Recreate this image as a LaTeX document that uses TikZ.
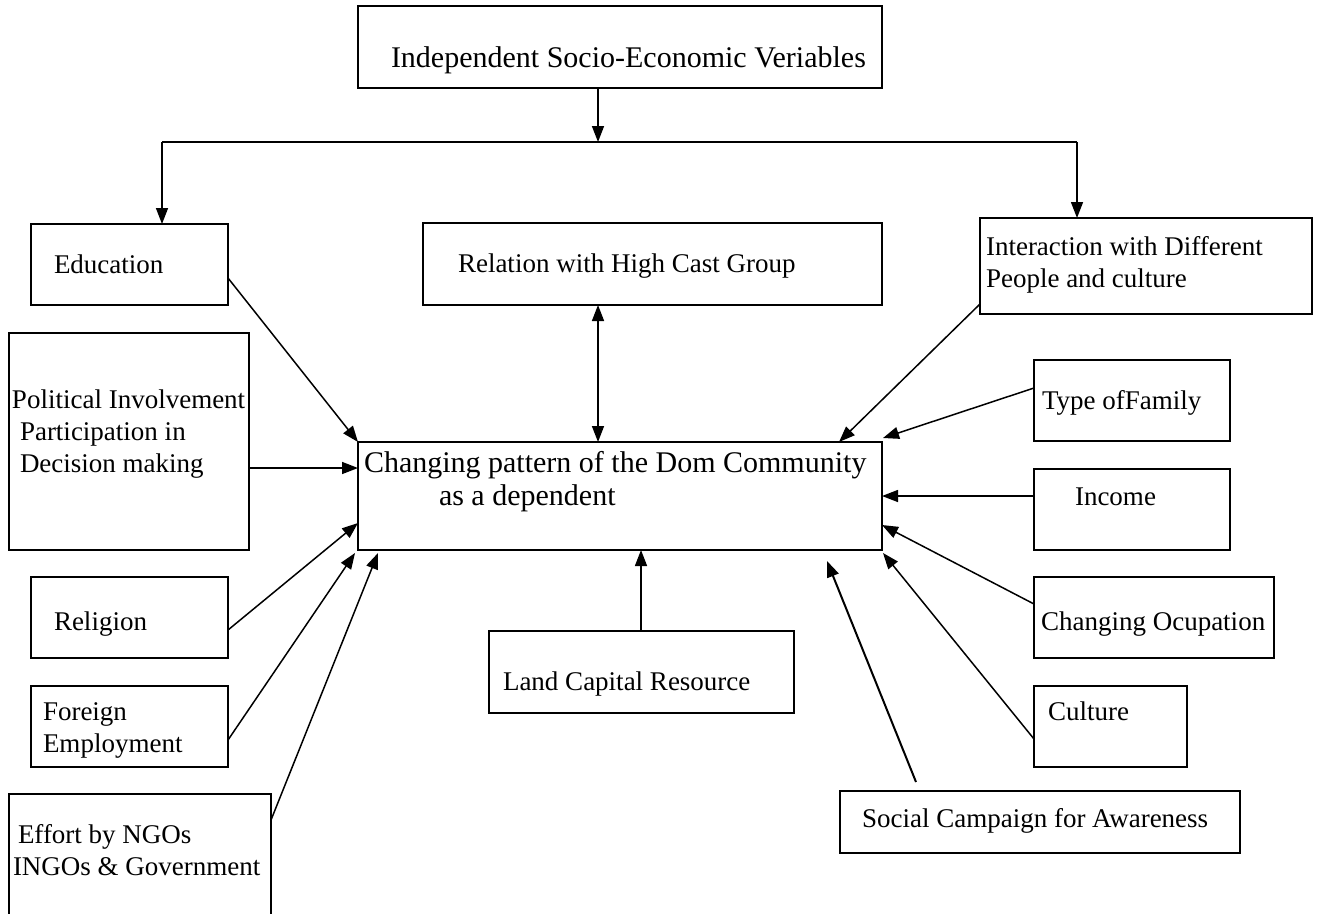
\documentclass[tikz,border=0pt]{standalone}
\usepackage{fontspec}
\setmainfont{Liberation Serif}
\usetikzlibrary{arrows.meta,calc}
\tikzset{
  box/.style={draw, line width=1.6pt, inner sep=0pt, outer sep=0pt, anchor=north west},
  txt/.style={inner sep=0pt, outer sep=0pt, anchor=base west, font=\fontsize{27}{32}\selectfont},
  bigtxt/.style={inner sep=0pt, outer sep=0pt, anchor=base west, font=\fontsize{30}{33}\selectfont},
  conn/.style={line width=1.5pt, -{Triangle[length=16pt,width=12pt]}},
  conntwo/.style={line width=1.5pt, {Triangle[length=16pt,width=12pt]}-{Triangle[length=16pt,width=12pt]}},
  plain/.style={line width=1.5pt},
}
\begin{document}
\begin{tikzpicture}[x=1pt,y=-1pt]
\clip (0,0) rectangle (1321,913);
\useasboundingbox (0,0) rectangle (1321,913);

% boxes
\node[box, minimum width=524pt, minimum height=82pt] (top) at (358,6) {};
\node[box, minimum width=197pt, minimum height=81pt] (edu) at (31,224) {};
\node[box, minimum width=459pt, minimum height=82pt] (rel) at (423,223) {};
\node[box, minimum width=332pt, minimum height=96pt] (inter) at (980,218) {};
\node[box, minimum width=240pt, minimum height=217pt] (pol) at (9,333) {};
\node[box, minimum width=524pt, minimum height=108pt] (cen) at (358,442) {};
\node[box, minimum width=196pt, minimum height=81pt] (fam) at (1034,360) {};
\node[box, minimum width=196pt, minimum height=81pt] (inc) at (1034,469) {};
\node[box, minimum width=240pt, minimum height=81pt] (occ) at (1034,577) {};
\node[box, minimum width=153pt, minimum height=81pt] (cul) at (1034,686) {};
\node[box, minimum width=400pt, minimum height=62pt] (soc) at (840,791) {};
\node[box, minimum width=305pt, minimum height=82pt] (land) at (489,631) {};
\node[box, minimum width=197pt, minimum height=81pt] (relig) at (31,577) {};
\node[box, minimum width=197pt, minimum height=81pt] (fore) at (31,686) {};
\node[box, minimum width=262pt, minimum height=160pt] (eff) at (9,794) {};

% texts
\node[bigtxt] (topT) at (391,67) {Independent Socio-Economic Veriables};
\node[txt] (eduT) at (54,273) {Education};
\node[txt] (relT) at (458,272) {Relation with High Cast Group};
\node[txt] (interT1) at (986,255) {Interaction with Different};
\node[txt] (interT2) at (986,287) {People and culture};
\node[txt] (polT1) at (12,408) {Political Involvement};
\node[txt] (polT2) at (20,440) {Participation in};
\node[txt] (polT3) at (20,472) {Decision making};
\node[bigtxt] (cenT1) at (364,472) {Changing pattern of the Dom Community};
\node[bigtxt] (cenT2) at (439,505) {as a dependent};
\node[txt] (famT) at (1042,409) {Type ofFamily};
\node[txt] (incT) at (1075,505) {Income};
\node[txt] (occT) at (1041,630) {Changing Ocupation};
\node[txt] (culT) at (1048,720) {Culture};
\node[txt] (socT) at (862,827) {Social Campaign for Awareness};
\node[txt] (landT) at (503,690) {Land Capital Resource};
\node[txt] (religT) at (54,630) {Religion};
\node[txt] (foreT1) at (43,720) {Foreign};
\node[txt] (foreT2) at (43,752) {Employment};
\node[txt] (effT1) at (18,843) {Effort by NGOs};
\node[txt] (effT2) at (13,875) {INGOs \& Government};

% top distribution
\coordinate (split) at (598,142);
\coordinate (hl) at (162,142);
\coordinate (hr) at (1077,142);
\draw[conn] (split |- top.south) -- (split);
\draw[plain] (hl) -- (hr);
\draw[conn] (hl) -- (hl |- edu.north);
\draw[conn] (hr) -- (hr |- inter.north);

% relation double arrow
\coordinate (rx) at (598,0);
\draw[conntwo] (rx |- rel.south) -- (rx |- cen.north);

% left side
\draw[conn] ([yshift=-13.5pt]edu.east) -- (cen.north west);
\coordinate (polA) at ([yshift=-26.5pt]pol.east);
\draw[conn] (polA) -- (polA -| cen.west);
\draw[conn] ([yshift=-12.5pt]relig.east) -- ([yshift=-27pt]cen.west);
\draw[conn] ([yshift=-13.5pt]fore.east) -- ([xshift=-3pt,yshift=-3pt]cen.south west);
\draw[conn] ([yshift=-26pt]eff.north east) -- ([xshift=20pt,yshift=-3pt]cen.south west);

% bottom
\coordinate (lx) at (641,0);
\draw[conn] (lx |- land.north) -- (lx |- cen.south);
\draw[conn, line width=2pt] ([xshift=-124pt,yshift=9pt]soc.north) -- ([xshift=-55pt,yshift=-11pt]cen.south east);

% right side
\draw[conn] ([yshift=-86pt]inter.north west) -- ([xshift=-43pt]cen.north east);
\draw[conn] ([yshift=-28pt]fam.north west) -- ([xshift=1pt,yshift=4pt]cen.north east);
\coordinate (incA) at ([yshift=-27pt]inc.north west);
\draw[conn] (incA) -- (incA -| cen.east);
\draw[conn] ([yshift=-27pt]occ.north west) -- ([yshift=-83pt]cen.north east);
\draw[conn] ([yshift=-53pt]cul.north west) -- ([xshift=1pt,yshift=-3pt]cen.south east);
\end{tikzpicture}
\end{document}
